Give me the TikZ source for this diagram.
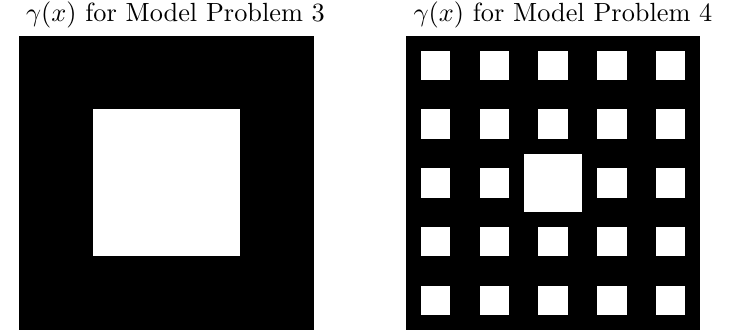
\documentclass[tikz,border=0pt]{standalone}
\usepackage{amsmath}
\usepackage{graphicx}
\usepackage{tikz}

\newcommand{\titlescale}[1]{\scalebox{2.63}{#1}}

\begin{document}
\begin{tikzpicture}[
    x=1pt, y=-1pt,
    title node/.style={inner sep=0pt, anchor=base},
    solid cell/.style={fill=black},
    hole cell/.style={fill=white}
]
\useasboundingbox (0,0) rectangle (732,334);

% titles
\node[title node] (title3) at (175.5,21.5) {\titlescale{$\gamma(x)$ for Model Problem 3}};
\node[title node] (title4) at (563,21.5) {\titlescale{$\gamma(x)$ for Model Problem 4}};

% Model Problem 3
\fill[solid cell] (19,36) rectangle (314,330);
\fill[hole cell] (92.75,109.5) rectangle (240.25,256.5);

% Model Problem 4
\fill[solid cell] (406,36) rectangle (700,330);
\foreach \i in {0,...,4}
  \foreach \j in {0,...,4}
    \fill[hole cell] ({406+58.8*\i+14.7},{36+58.8*\j+14.7}) rectangle ++(29.4,29.4);
\fill[hole cell] (523.6,153.6) rectangle ++(58.8,58.8);

\end{tikzpicture}
\end{document}
